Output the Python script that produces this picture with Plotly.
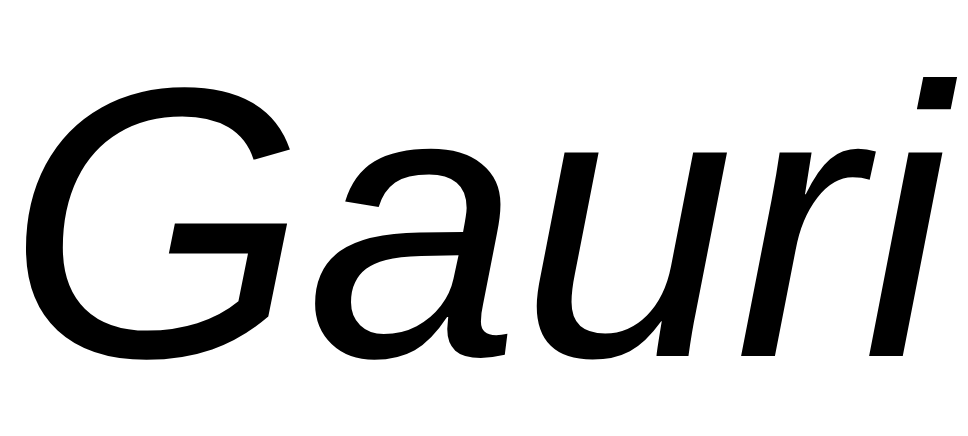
import plotly.graph_objects as go

# the whole picture is one word
label = "Gauri"

fig = go.Figure()
fig.add_annotation(text=f"<i>{label}</i>", x=0.5, y=0.5, xref="paper", yref="paper",
                   xanchor="center", yanchor="middle", showarrow=False,
                   xshift=-9, yshift=4,
                   font=dict(family="Liberation Sans, Arial", size=385, color="black"))
fig.update_xaxes(visible=False)
fig.update_yaxes(visible=False)
fig.update_layout(width=968, height=436, margin=dict(l=0, r=0, t=0, b=0),
                  paper_bgcolor="white", plot_bgcolor="white")
fig.write_html("out.html")
